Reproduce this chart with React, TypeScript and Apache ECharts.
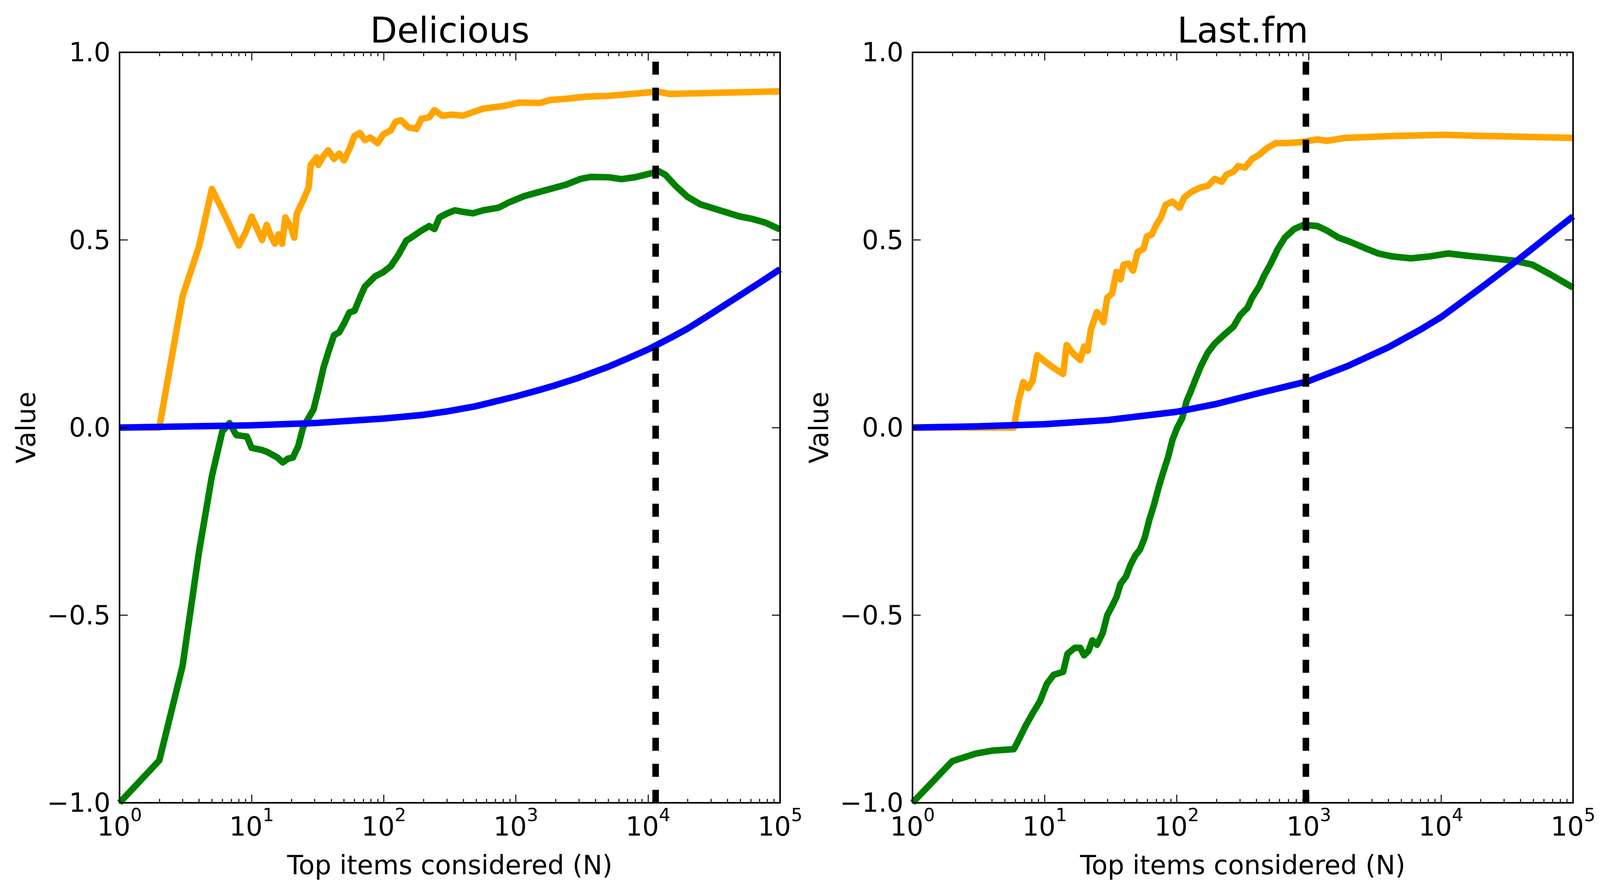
import React, { useEffect, useRef } from "react";
import * as echarts from "echarts";

// ---------- data ----------
const panelTitles = ["Delicious", "Last.fm"];
const xAxisTitle = "Top items considered (N)";
const yAxisTitle = "Value";
const xMajorTicks = [1, 10, 100, 1000, 10000, 100000];
const yTickValues = [-1, -0.5, 0, 0.5, 1];
const cutoffN = [11430, 950];

const delOrange = [
  [1, 0], [2, 0], [3, 0.35], [4, 0.483], [5, 0.636], [6, 0.58], [7, 0.53], [8, 0.485],
  [9, 0.52], [10, 0.562], [11, 0.53], [12, 0.5], [13, 0.54], [14, 0.51], [15, 0.49],
  [16, 0.515], [17, 0.49], [18, 0.56], [20, 0.53], [21, 0.506], [22, 0.571], [24.5, 0.605],
  [27, 0.64], [28, 0.7], [31, 0.72], [32, 0.7], [35, 0.724], [38, 0.739], [42, 0.716],
  [46, 0.73], [50, 0.712], [55, 0.743], [60, 0.777], [66, 0.785], [72, 0.766], [79, 0.773],
  [90, 0.758], [99, 0.781], [113, 0.792], [123, 0.815], [135, 0.819], [154, 0.8], [177, 0.796],
  [193, 0.823], [221, 0.827], [242, 0.846], [277, 0.831], [331, 0.834], [396, 0.831],
  [567, 0.85], [811, 0.857], [1061, 0.866], [1518, 0.865], [1817, 0.873], [2378, 0.876],
  [3404, 0.882], [5040, 0.884], [7500, 0.889], [10700, 0.894], [11500, 0.896], [14700, 0.889],
  [31400, 0.892], [100000, 0.896],
];

const delGreen = [
  [1, -1], [2, -0.887], [3, -0.635], [4, -0.33], [5, -0.13], [6, -0.01], [6.8, 0.012],
  [7.65, -0.02], [9.2, -0.024], [10, -0.054], [12, -0.06], [13.1, -0.065], [15.7, -0.08],
  [17.2, -0.093], [18.8, -0.083], [20.5, -0.08], [22.5, -0.05], [24.5, 0.0], [26.9, 0.025],
  [29.4, 0.048], [32, 0.1], [35, 0.16], [38, 0.2], [42, 0.246], [46, 0.254], [50, 0.277],
  [55, 0.307], [60, 0.311], [66, 0.346], [72, 0.376], [79, 0.39], [86, 0.403], [99, 0.414],
  [113, 0.43], [129, 0.46], [148, 0.498], [161, 0.506], [193, 0.525], [221, 0.537],
  [242, 0.529], [264, 0.56], [303, 0.571], [346, 0.579], [396, 0.575], [474, 0.571],
  [567, 0.579], [741, 0.586], [887, 0.6], [1161, 0.617], [1660, 0.632], [2378, 0.647],
  [3112, 0.663], [3724, 0.668], [5040, 0.667], [6300, 0.662], [7940, 0.667], [10700, 0.678],
  [12100, 0.683], [13500, 0.674], [16300, 0.643], [19900, 0.615], [24900, 0.595],
  [31400, 0.584], [49000, 0.563], [61600, 0.556], [77600, 0.546], [100000, 0.528],
];

const delBlue = [
  [1, 0], [10, 0.006], [30, 0.012], [100, 0.024], [200, 0.034], [300, 0.043], [500, 0.057],
  [1000, 0.083], [1500, 0.1], [2000, 0.113], [3000, 0.133], [5000, 0.162], [7000, 0.184],
  [10000, 0.208], [15000, 0.24], [20000, 0.264], [30000, 0.303], [50000, 0.353],
  [70000, 0.386], [100000, 0.422],
];

const lfOrange = [
  [1, 0], [5.85, 0], [6.35, 0.071], [6.9, 0.121], [7.5, 0.105], [8.1, 0.124], [8.8, 0.193],
  [9.9, 0.178], [11.7, 0.159], [13.8, 0.143], [14.7, 0.22], [16.2, 0.2], [18.6, 0.18],
  [19.9, 0.216], [21.2, 0.205], [22.4, 0.262], [24.9, 0.308], [27.9, 0.281], [29.8, 0.346],
  [32.4, 0.357], [35, 0.415], [37.5, 0.395], [39.6, 0.434], [43, 0.437], [46.7, 0.418],
  [50.6, 0.468], [56, 0.476], [59.6, 0.51], [64.6, 0.514], [70, 0.54], [76, 0.56],
  [82.5, 0.594], [93, 0.602], [105, 0.586], [114, 0.613], [129, 0.628], [152, 0.64],
  [172, 0.644], [194, 0.663], [219, 0.655], [238, 0.674], [269, 0.682], [292, 0.697],
  [329, 0.693], [372, 0.716], [421, 0.727], [475, 0.743], [560, 0.758], [658, 0.758],
  [840, 0.76], [1164, 0.768], [1369, 0.764], [1897, 0.772], [4283, 0.777], [10490, 0.78],
  [21800, 0.777], [100000, 0.772],
];

const lfGreen = [
  [1, -1], [2, -0.889], [3, -0.869], [4, -0.861], [5.85, -0.857], [6.35, -0.833],
  [7.2, -0.794], [8.1, -0.762], [9.2, -0.73], [10.4, -0.683], [11.7, -0.659], [13.8, -0.651],
  [14.9, -0.603], [16.9, -0.587], [18.6, -0.587], [19.9, -0.607], [21.5, -0.595], [23, -0.567],
  [24.9, -0.579], [27.5, -0.548], [29.8, -0.5], [32.4, -0.476], [35, -0.452], [37.5, -0.417],
  [41.3, -0.397], [44.8, -0.365], [48.6, -0.341], [52.7, -0.325], [57.2, -0.294], [62, -0.246],
  [67.3, -0.206], [73, -0.159], [79, -0.119], [86, -0.079], [93, -0.032], [101, 0.0],
  [110, 0.025], [119, 0.071], [129, 0.1], [140, 0.132], [152, 0.163], [172, 0.2], [194, 0.224],
  [228, 0.247], [269, 0.269], [303, 0.3], [343, 0.319], [372, 0.346], [421, 0.376],
  [456, 0.403], [515, 0.437], [582, 0.476], [658, 0.506], [774, 0.529], [911, 0.54],
  [1164, 0.537], [1369, 0.525], [1679, 0.506], [2057, 0.495], [2626, 0.479], [3353, 0.464],
  [4283, 0.456], [5933, 0.451], [8213, 0.456], [11370, 0.464], [15740, 0.458], [21800, 0.453],
  [35560, 0.445], [49230, 0.434], [68190, 0.407], [100000, 0.373],
];

const lfBlue = [
  [1, 0], [3, 0.003], [10, 0.009], [30, 0.02], [100, 0.042], [200, 0.063], [400, 0.09],
  [1000, 0.124], [2000, 0.165], [4000, 0.214], [7000, 0.261], [10000, 0.294], [20000, 0.372],
  [40000, 0.452], [70000, 0.52], [100000, 0.563],
];

const seriesColors = { orange: "#FFA500", green: "#008000", blue: "#0000FF", cutoff: "#000000" };

// ---------- layout ----------
const FONT = "DejaVu Sans";
const GRID_LEFTS = [306, 2336];
const GRID_TOP = 134;
const GRID_W = 1691;
const GRID_H = 1922;
const LINE_W = 16.7;

const minorLogPositions: number[] = [];
for (let d = 0; d < 5; d++) {
  for (let k = 2; k <= 9; k++) minorLogPositions.push(d + Math.log10(k));
}

const yLabel = (v: number) => v.toFixed(1).replace("-", "\u2212");

function buildOption() {
  const panels = [
    { orange: delOrange, green: delGreen, blue: delBlue },
    { orange: lfOrange, green: lfGreen, blue: lfBlue },
  ];
  const axisLine = { show: true, onZero: false, lineStyle: { color: "#000", width: 4 } };
  const tickStyle = { color: "#000", width: 2.5 };

  const grid: any[] = [];
  const xAxis: any[] = [];
  const yAxis: any[] = [];
  const series: any[] = [];
  const graphic: any[] = [];

  panels.forEach((p, g) => {
    grid.push({ left: GRID_LEFTS[g], top: GRID_TOP, width: GRID_W, height: GRID_H, containLabel: false });

    const logAxis = (pos: string, labels: boolean) => ({
      type: "log",
      logBase: 10,
      gridIndex: g,
      position: pos,
      min: xMajorTicks[0],
      max: xMajorTicks[xMajorTicks.length - 1],
      splitNumber: 5,
      z: 5,
      axisLine,
      axisTick: { show: true, inside: true, length: 21, interval: 0, lineStyle: tickStyle },
      axisLabel: labels
        ? {
            show: true,
            interval: 0,
            margin: 8,
            showMinLabel: true,
            showMaxLabel: true,
            formatter: (v: number) => `{b|10}{s|${Math.round(Math.log10(v))}}`,
            rich: {
              b: { fontSize: 67, fontFamily: FONT, color: "#000", verticalAlign: "bottom", lineHeight: 67 },
              s: { fontSize: 46, fontFamily: FONT, color: "#000", verticalAlign: "top", padding: [0, 0, 40, 0] },
            },
          }
        : { show: false },
      splitLine: { show: false },
      minorTick: { show: false },
    });
    const minorAxis = (pos: string) => ({
      type: "value",
      gridIndex: g,
      position: pos,
      min: 0,
      max: 5,
      z: 5,
      axisLine: { show: false, onZero: false },
      axisTick: { show: true, inside: true, length: 10, customValues: minorLogPositions, lineStyle: tickStyle },
      axisLabel: { show: false },
      splitLine: { show: false },
    });
    xAxis.push(logAxis("bottom", true), minorAxis("bottom"), logAxis("top", false), minorAxis("top"));

    const valAxis = (pos: string, labels: boolean) => ({
      type: "value",
      gridIndex: g,
      position: pos,
      min: yTickValues[0],
      max: yTickValues[yTickValues.length - 1],
      interval: 0.5,
      z: 5,
      axisLine,
      axisTick: { show: true, inside: true, length: 21, lineStyle: tickStyle },
      axisLabel: labels
        ? { show: true, margin: 23, fontSize: 67, fontFamily: FONT, color: "#000", formatter: yLabel }
        : { show: false },
      splitLine: { show: false },
    });
    yAxis.push(valAxis("left", true), valAxis("right", false));

    const xi = g * 4;
    const yi = g * 2;
    const mk = (name: string, data: number[][], color: string) => ({
      type: "line",
      name,
      xAxisIndex: xi,
      yAxisIndex: yi,
      data,
      symbol: "none",
      showSymbol: false,
      silent: true,
      clip: true,
      lineStyle: { color, width: LINE_W, join: "round", cap: "butt" },
      itemStyle: { color },
    });
    series.push(mk("orange", p.orange, seriesColors.orange));
    series.push(mk("green", p.green, seriesColors.green));
    series.push(mk("blue", p.blue, seriesColors.blue));
    series.push({
      type: "line",
      name: "cutoff",
      xAxisIndex: xi,
      yAxisIndex: yi,
      data: [[cutoffN[g], yTickValues[0]], [cutoffN[g], yTickValues[yTickValues.length - 1]]],
      symbol: "none",
      silent: true,
      lineStyle: { color: seriesColors.cutoff, width: LINE_W, type: [33.3, 33.3], cap: "butt" },
      itemStyle: { color: seriesColors.cutoff },
    });

    const cx = GRID_LEFTS[g] + GRID_W / 2;
    graphic.push({
      type: "text",
      x: cx,
      y: 77,
      style: { text: panelTitles[g], fontSize: 90, fontFamily: FONT, fill: "#000", align: "center", verticalAlign: "middle" },
    });
    graphic.push({
      type: "text",
      x: cx,
      y: 2216,
      style: { text: xAxisTitle, fontSize: 67, fontFamily: FONT, fill: "#000", align: "center", verticalAlign: "middle" },
    });
    graphic.push({
      type: "text",
      x: GRID_LEFTS[g] - 239,
      y: GRID_TOP + GRID_H / 2,
      rotation: Math.PI / 2,
      style: { text: yAxisTitle, fontSize: 67, fontFamily: FONT, fill: "#000", align: "center", verticalAlign: "middle" },
    });
  });

  return {
    animation: false,
    backgroundColor: "#ffffff",
    textStyle: { fontFamily: FONT },
    grid,
    xAxis,
    yAxis,
    series,
    graphic,
  };
}

export default function App() {
  const ref = useRef<HTMLDivElement>(null);
  useEffect(() => {
    if (!ref.current) return;
    const chart = echarts.init(ref.current, undefined, { renderer: "svg" });
    chart.setOption(buildOption() as any);
    return () => chart.dispose();
  }, []);
  return (
    <div
      ref={ref}
      style={{ position: "absolute", left: 0, top: 0, width: "4122px", height: "2287px", background: "#fff" }}
    />
  );
}
